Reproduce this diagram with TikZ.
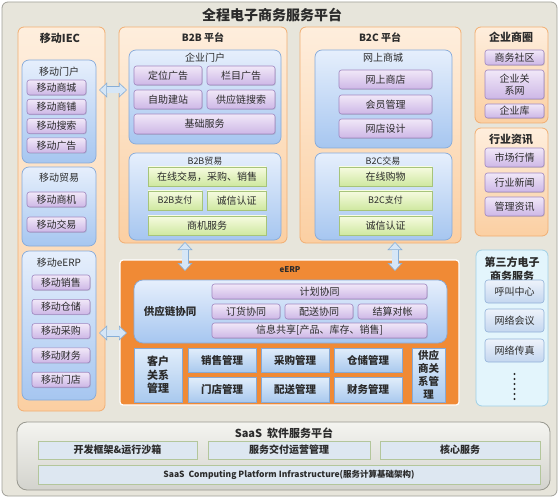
\documentclass[tikz,border=0pt]{standalone}
\usepackage{fontspec}
\setmainfont{Noto Sans CJK SC}
\usetikzlibrary{arrows.meta, positioning, shadows, calc}

\definecolor{bgframe}{HTML}{E7E5DB}
\definecolor{frameline}{HTML}{A09F98}
\definecolor{peachtop}{HTML}{FEEEDD}
\definecolor{peachbot}{HTML}{FBCFA2}
\definecolor{peachline}{HTML}{F2AE72}
\definecolor{bluetop}{HTML}{E6EFFC}
\definecolor{bluebot}{HTML}{A6C6F0}
\definecolor{blueline}{HTML}{86AAD9}
\definecolor{purtop}{HTML}{F1E8F8}
\definecolor{purbot}{HTML}{CDB7E6}
\definecolor{purline}{HTML}{9F86C0}
\definecolor{grntop}{HTML}{F6FBE0}
\definecolor{grnbot}{HTML}{CFE8A0}
\definecolor{grnline}{HTML}{A6C47A}
\definecolor{erporange}{HTML}{F08A35}
\definecolor{ebtop}{HTML}{E2EEFB}
\definecolor{ebbot}{HTML}{A9C9EE}
\definecolor{ebline}{HTML}{86A9D5}
\definecolor{cyanfill}{HTML}{E3F5FC}
\definecolor{cyanline}{HTML}{9FD0E6}
\definecolor{tptop}{HTML}{EEF3FB}
\definecolor{tpbot}{HTML}{C3D6EF}
\definecolor{tpline}{HTML}{92B2D8}
\definecolor{saastop}{HTML}{F4F4F0}
\definecolor{saasbot}{HTML}{D3D3CD}
\definecolor{saasline}{HTML}{98988F}
\definecolor{sitemfill}{HTML}{DDE7F1}
\definecolor{sitemline}{HTML}{B3C69B}
\definecolor{arrowline}{HTML}{86AED8}
\definecolor{arrowfill}{HTML}{D6E6F6}
\definecolor{txtgray}{HTML}{2B2B2B}

\begin{document}
\begin{tikzpicture}[
    x=1pt, y=-1pt,
    font=\fontsize{10}{12}\selectfont,
    base/.style={anchor=north west, inner sep=0pt, outer sep=0pt, align=center, text=txtgray},
    peachbox/.style={base, draw=peachline, top color=peachtop, bottom color=peachbot, rounded corners=6pt, line width=0.8pt},
    bluebox/.style={base, draw=blueline, top color=bluetop, bottom color=bluebot, rounded corners=7pt, line width=0.7pt},
    pitem/.style={base, draw=purline, top color=purtop, bottom color=purbot, rounded corners=2.5pt, line width=0.6pt, drop shadow={shadow xshift=0.8pt, shadow yshift=-0.8pt, opacity=0.25}},
    gitem/.style={base, draw=grnline, top color=grntop, bottom color=grnbot, line width=0.6pt, drop shadow={shadow xshift=0.8pt, shadow yshift=-0.8pt, opacity=0.2}},
    erpitem/.style={base, draw=ebline, top color=ebtop, bottom color=ebbot, line width=0.6pt, font=\fontsize{10.5}{13}\selectfont\bfseries},
    tpitem/.style={base, draw=tpline, top color=tptop, bottom color=tpbot, rounded corners=3pt, line width=0.6pt},
    sitem/.style={base, draw=sitemline, fill=sitemfill, line width=0.7pt, font=\fontsize{10}{12}\selectfont\bfseries},
    headtext/.style={inner sep=0pt, text=txtgray, align=center, font=\fontsize{11}{13.5}\selectfont\bfseries},
    subtext/.style={inner sep=0pt, text=txtgray, font=\fontsize{10}{12}\selectfont},
    fatarrow/.style={draw=arrowline, line width=7pt,
        {Triangle[length=8pt,width=15pt,line width=0.6pt,fill=arrowfill]}-{Triangle[length=8pt,width=15pt,line width=0.6pt,fill=arrowfill]},
        postaction={draw=arrowfill, line width=5.6pt, -, shorten <=7.5pt, shorten >=7.5pt}},
    dotline/.style={draw=txtgray, line width=2.4pt, line cap=round, dash pattern=on 0pt off 5pt}
]
\useasboundingbox (0,0) rectangle (560,500);

% frame and title
\node[base, draw=frameline, fill=bgframe, rounded corners=6pt, line width=0.8pt, minimum width=555pt, minimum height=494pt] (frame) at (2,2) {};
\node[inner sep=0pt, text=txtgray, font=\fontsize{14}{16}\selectfont\bfseries] (title) at (272,15) {全程电子商务服务平台};

% Column 1: mobile IEC
\node[peachbox, minimum width=87pt, minimum height=384pt] (mob_iec) at (18,27) {};
\node[headtext] (mob_iec_t) at (60,38) {移动IEC};

\node[bluebox, minimum width=74pt, minimum height=103pt] (mob_portal) at (22,60) {};
\node[subtext] (mob_portal_t) at (59,72) {移动门户};
\node[pitem, minimum width=59pt, minimum height=15pt] (mob_mall) at (27,80) {移动商城};
\node[pitem, minimum width=59pt, minimum height=15pt, below=4.3pt of mob_mall] (mob_shop) {移动商铺};
\node[pitem, minimum width=59pt, minimum height=15pt, below=4.3pt of mob_shop] (mob_search) {移动搜索};
\node[pitem, minimum width=59pt, minimum height=15pt, below=4.3pt of mob_search] (mob_ad) {移动广告};

\node[bluebox, minimum width=74pt, minimum height=79pt] (mob_trade) at (22,167) {};
\node[subtext] (mob_trade_t) at (59,178) {移动贸易};
\node[pitem, minimum width=59pt, minimum height=15pt] (mob_biz) at (27,192) {移动商机};
\node[pitem, minimum width=59pt, minimum height=15pt, below=10pt of mob_biz] (mob_deal) {移动交易};

\node[bluebox, minimum width=74pt, minimum height=149pt] (mob_erp) at (22,251) {};
\node[subtext] (mob_erp_t) at (59,263) {移动eERP};
\node[pitem, minimum width=58pt, minimum height=15pt] (mob_sale) at (32,275) {移动销售};
\node[pitem, minimum width=58pt, minimum height=15pt, below=9.3pt of mob_sale] (mob_store) {移动仓储};
\node[pitem, minimum width=58pt, minimum height=15pt, below=9.3pt of mob_store] (mob_buy) {移动采购};
\node[pitem, minimum width=58pt, minimum height=15pt, below=9.3pt of mob_buy] (mob_fin) {移动财务};
\node[pitem, minimum width=58pt, minimum height=15pt, below=9.3pt of mob_fin] (mob_shop2) {移动门店};

% Column 2: B2B
\node[peachbox, minimum width=168pt, minimum height=216pt] (b2b) at (119,27) {};
\node[headtext, font=\fontsize{10}{12}\selectfont\bfseries] (b2b_t) at (203,38) {B2B 平台};

\node[bluebox, minimum width=152pt, minimum height=94pt] (b2b_portal) at (129,50) {};
\node[subtext] (b2b_portal_t) at (205,58) {企业门户};
\node[pitem, minimum width=68pt, minimum height=19pt] (p_locad) at (134,66) {定位广告};
\node[pitem, minimum width=68pt, minimum height=19pt, right=5pt of p_locad] (p_colad) {栏目广告};
\node[pitem, minimum width=68pt, minimum height=19pt, below=5pt of p_locad] (p_build) {自助建站};
\node[pitem, minimum width=68pt, minimum height=19pt, below=5pt of p_colad] (p_search) {供应链搜索};
\node[pitem, minimum width=141pt, minimum height=20pt, below right=5pt and 0pt of p_build.south west] (p_basic) {基础服务};

\node[bluebox, minimum width=152pt, minimum height=87pt] (b2b_trade) at (129,153) {};
\node[subtext, font=\fontsize{9}{11}\selectfont] (b2b_trade_t) at (205,161) {B2B贸易};
\node[gitem, minimum width=118pt, minimum height=19pt] (t_online) at (148,167) {在线交易，采购、销售};
\node[gitem, minimum width=54pt, minimum height=19pt, below right=5pt and 0pt of t_online.south west] (t_pay) {\fontsize{9}{11}\selectfont B2B支付};
\node[gitem, minimum width=59pt, minimum height=19pt, right=5pt of t_pay] (t_credit) {诚信认证};
\node[gitem, minimum width=118pt, minimum height=19pt, below right=6pt and 0pt of t_pay.south west] (t_biz) {商机服务};

% Column 3: B2C
\node[peachbox, minimum width=161pt, minimum height=216pt] (b2c) at (300,27) {};
\node[headtext, font=\fontsize{10}{12}\selectfont\bfseries] (b2c_t) at (380,38) {B2C 平台};

\node[bluebox, minimum width=137pt, minimum height=98pt] (b2c_mall) at (315,50) {};
\node[subtext] (b2c_mall_t) at (383,58) {网上商城};
\node[pitem, minimum width=93pt, minimum height=19pt] (m_shop) at (339,70) {网上商店};
\node[pitem, minimum width=93pt, minimum height=19pt, below=6pt of m_shop] (m_member) {会员管理};
\node[pitem, minimum width=93pt, minimum height=19pt, below=5pt of m_member] (m_design) {网店设计};

\node[bluebox, minimum width=137pt, minimum height=87pt] (b2c_trade) at (315,153) {};
\node[subtext, font=\fontsize{9}{11}\selectfont] (b2c_trade_t) at (383,161) {B2C交易};
\node[gitem, minimum width=93pt, minimum height=19pt] (c_buy) at (339,167) {在线购物};
\node[gitem, minimum width=93pt, minimum height=19pt, below=5pt of c_buy] (c_pay) {\fontsize{9}{11}\selectfont B2C支付};
\node[gitem, minimum width=93pt, minimum height=19pt, below=6pt of c_pay] (c_credit) {诚信认证};

% Column 4: circle, news, third party
\node[peachbox, minimum width=73pt, minimum height=96pt] (circle) at (475,27) {};
\node[headtext] (circle_t) at (511,37) {企业商圈};
\node[pitem, minimum width=59pt, minimum height=15pt] (ci_comm) at (485,50) {商务社区};
\node[pitem, minimum width=59pt, minimum height=29pt, below=5pt of ci_comm] (ci_net) {企业关\\系网};
\node[pitem, minimum width=59pt, minimum height=14pt, below=5pt of ci_net] (ci_lib) {企业库};

\node[peachbox, minimum width=73pt, minimum height=108pt] (news) at (475,128) {};
\node[headtext] (news_t) at (511,139) {行业资讯};
\node[pitem, minimum width=59pt, minimum height=19pt] (n_market) at (485,148) {市场行情};
\node[pitem, minimum width=59pt, minimum height=19pt, below=6pt of n_market] (n_news) {行业新闻};
\node[pitem, minimum width=59pt, minimum height=19pt, below=5pt of n_news] (n_mgmt) {管理资讯};

\node[base, draw=cyanline, fill=cyanfill, rounded corners=6pt, line width=0.8pt, minimum width=72pt, minimum height=156pt] (third) at (476,250) {};
\node[headtext, font=\fontsize{11}{13.5}\selectfont\bfseries] (third_t) at (512,269) {第三方电子\\商务服务};
\node[tpitem, minimum width=59pt, minimum height=23pt] (tp_call) at (485,280) {呼叫中心};
\node[tpitem, minimum width=59pt, minimum height=23pt, below=6pt of tp_call] (tp_meet) {网络会议};
\node[tpitem, minimum width=59pt, minimum height=23pt, below=7pt of tp_meet] (tp_fax) {网络传真};
\draw[dotline] ($(tp_fax.south)+(0,12)$) -- ($(tp_fax.south)+(0,37)$);

% eERP
\node[base, draw=white, fill=erporange, rounded corners=3pt, line width=1.2pt, minimum width=339pt, minimum height=145pt] (erp) at (120,260) {};
\node[inner sep=0pt, text=txtgray, font=\fontsize{8}{10}\selectfont\bfseries] (erp_t) at (290,270) {eERP};

\node[bluebox, rounded corners=9pt, minimum width=313pt, minimum height=63pt] (sc) at (134,280) {};
\node[headtext, font=\fontsize{10.5}{12}\selectfont\bfseries] (sc_t) at (170,311) {供应链协同};
\node[pitem, minimum width=215pt, minimum height=15pt] (sc_plan) at (212,284) {计划协同};
\node[pitem, minimum width=68pt, minimum height=15pt, below right=5pt and 0pt of sc_plan.south west] (sc_order) {订货协同};
\node[pitem, minimum width=68pt, minimum height=15pt, right=5pt of sc_order] (sc_deliv) {配送协同};
\node[pitem, minimum width=69pt, minimum height=15pt, right=5pt of sc_deliv] (sc_settle) {结算对帐};
\node[pitem, minimum width=215pt, minimum height=15pt, below right=4pt and 0pt of sc_order.south west] (sc_info) {信息共享[产品、库存、销售]};

\node[erpitem, minimum width=48pt, minimum height=54pt, font=\fontsize{11}{13.5}\selectfont\bfseries] (e_crm) at (134,348) {客户\\关系\\管理};
\node[erpitem, minimum width=68pt, minimum height=24pt, below right=0pt and 6pt of e_crm.north east] (e_sale) {销售管理};
\node[erpitem, minimum width=68pt, minimum height=25pt, below=5pt of e_sale] (e_store) {门店管理};
\node[erpitem, minimum width=68pt, minimum height=24pt, below right=0pt and 5pt of e_sale.north east] (e_buy) {采购管理};
\node[erpitem, minimum width=68pt, minimum height=25pt, below=5pt of e_buy] (e_deliv) {配送管理};
\node[erpitem, minimum width=68pt, minimum height=24pt, below right=0pt and 5pt of e_buy.north east] (e_wh) {仓储管理};
\node[erpitem, minimum width=68pt, minimum height=25pt, below=5pt of e_wh] (e_fin) {财务管理};
\node[erpitem, minimum width=33pt, minimum height=54pt, font=\fontsize{10.5}{13}\selectfont\bfseries, below right=0pt and 10pt of e_wh.north east] (e_srm) {供应\\商关\\系管\\理};

% connections
\draw[fatarrow] ($(mob_portal.east)+(3,-21.5)$) -- ($(mob_portal.east -| b2b_portal.west)+(-2,-21.5)$);
\draw[fatarrow] ($(mob_erp.east)+(3,7.5)$) -- ($(mob_erp.east -| sc.west)+(-7,7.5)$);
\draw[fatarrow] ($(b2b_trade.south)+(-20,2)$) -- ($(b2b_trade.south |- erp.north)+(-20,11)$);
\draw[fatarrow] ($(b2c_trade.south)+(11.5,2)$) -- ($(b2c_trade.south |- erp.north)+(11.5,11)$);

% SaaS
\node[base, draw=saasline, top color=saastop, bottom color=saasbot, rounded corners=10pt, line width=0.8pt, minimum width=533pt, minimum height=68pt] (saas) at (17,422) {};
\node[headtext] (saas_t) at (284,433) {SaaS\ \ 软件服务平台};
\node[sitem, minimum width=159pt, minimum height=18pt] (s_dev) at (38,441) {开发框架\&运行沙箱};
\node[sitem, minimum width=162pt, minimum height=18pt, below right=0pt and 11pt of s_dev.north east] (s_ops) {服务交付运营管理};
\node[sitem, minimum width=160pt, minimum height=18pt, below right=0pt and 10pt of s_ops.north east] (s_core) {核心服务};
\node[sitem, minimum width=502pt, minimum height=19pt, font=\fontsize{8.5}{10}\selectfont\bfseries, below right=6pt and 0pt of s_dev.south west] (s_infra) {SaaS\ \ Computing Platform Infrastructure(服务计算基础架构)};

\end{tikzpicture}
\end{document}
